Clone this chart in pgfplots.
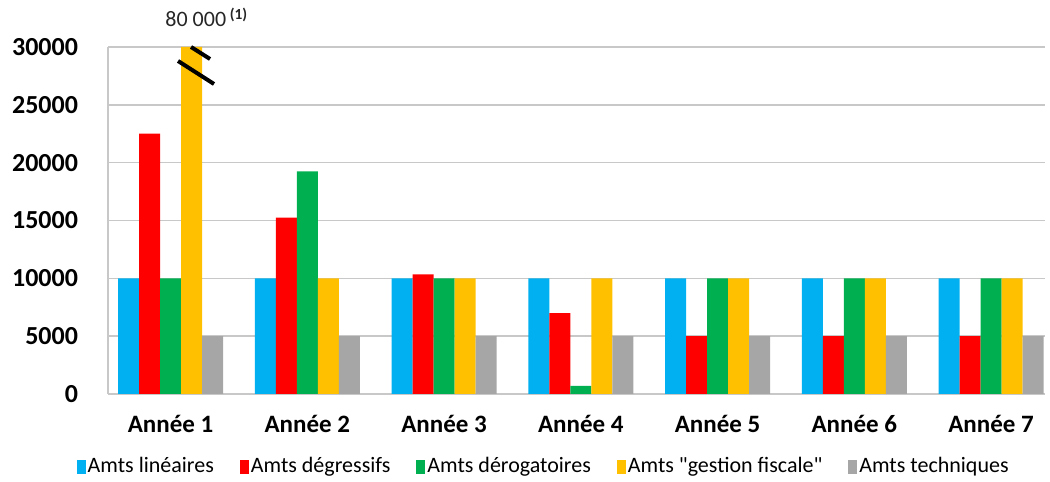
\documentclass[border=0pt]{standalone}
\usepackage{pgfplots}
\pgfplotsset{compat=1.18}
\usepackage{fontspec}
\setmainfont{Carlito}
\newfontfamily\carlq{Carlito}[Ligatures=TeXOff]
\definecolor{cblue}{HTML}{00B0F0}
\definecolor{cred}{HTML}{FF0000}
\definecolor{cgreen}{HTML}{00B050}
\definecolor{cyellow}{HTML}{FFC000}
\definecolor{cgray}{HTML}{A6A6A6}
\definecolor{gridc}{HTML}{C8C8C8}
\begin{document}
\begin{tikzpicture}
\begin{axis}[
  scale only axis,
  width=468.5pt, height=173.5pt,
  xmin=-0.457, xmax=6.395,
  ymin=0, ymax=30000,
  ytick={0,5000,...,30000},
  scaled y ticks=false,
  xtick={0,...,6},
  xticklabels={Année 1,Année 2,Année 3,Année 4,Année 5,Année 6,Année 7},
  major x tick style={draw=none},
  extra x ticks={0.5,1.5,2.5,3.5,4.5,5.5},
  extra x tick labels={},
  extra x tick style={major tick length=4pt, tick align=outside, tick style={draw=gridc, line width=0.8pt}, grid=none},
  axis x line*=bottom, axis y line*=left,
  axis line style={draw=gridc, line width=0.8pt, -},
  ymajorgrids, grid style={draw=gridc, line width=0.8pt},
  major y tick style={draw=none},
  /pgf/number format/1000 sep={},
  /pgf/number format/assume math mode=true,
  yticklabel style={font=\bfseries\fontsize{13}{15}\selectfont, xshift=-11.5pt},
  xticklabel style={font=\bfseries\fontsize{12.5}{14}\selectfont, yshift=-3pt},
  ybar=0pt, bar width=10.5pt,
  clip=false,
  legend columns=5,
  legend style={draw=none, at={(rel axis cs:0.466,-0.21)}, anchor=center,
    font=\fontsize{11}{13}\selectfont, /tikz/every even column/.append style={column sep=11pt},
    /tikz/every odd column/.append style={column sep=-1pt}},
  legend image code/.code={\fill[#1] (0pt,-3.5pt) rectangle (4.5pt,3.5pt);},
]
\addplot[fill=cblue, draw=none] coordinates {(0,10000) (1,10000) (2,10000) (3,10000) (4,10000) (5,10000) (6,10000)};
\addplot[fill=cred, draw=none] coordinates {(0,22500) (1,15250) (2,10350) (3,7000) (4,5000) (5,5000) (6,5000)};
\addplot[fill=cgreen, draw=none] coordinates {(0,10000) (1,19250) (2,10000) (3,700) (4,10000) (5,10000) (6,10000)};
\addplot[fill=cyellow, draw=none] coordinates {(0,30000) (1,10000) (2,10000) (3,10000) (4,10000) (5,10000) (6,10000)};
\addplot[fill=cgray, draw=none] coordinates {(0,5000) (1,5000) (2,5000) (3,5000) (4,5000) (5,5000) (6,5000)};
\legend{Amts linéaires, Amts dégressifs, Amts dérogatoires, {\carlq Amts "gestion fiscale"}, Amts techniques}
\draw[line width=2pt, black] (axis cs:0.055,28790) -- (axis cs:0.318,26801);
\draw[line width=2pt, black] (axis cs:0.150,30000) -- (axis cs:0.289,28962);
\node[anchor=base west, inner sep=0pt, font=\fontsize{11}{13}\selectfont, text=black!85] at (axis cs:-0.040,31730) {80 000\,\textsuperscript{\bfseries(1)}};
\coordinate (bl) at (rel axis cs:-0.1153,-0.2536);
\coordinate (tr) at (rel axis cs:1.0053,1.1354);
\end{axis}
\pgfresetboundingbox
\path (bl) rectangle (tr);
\end{tikzpicture}
\end{document}
